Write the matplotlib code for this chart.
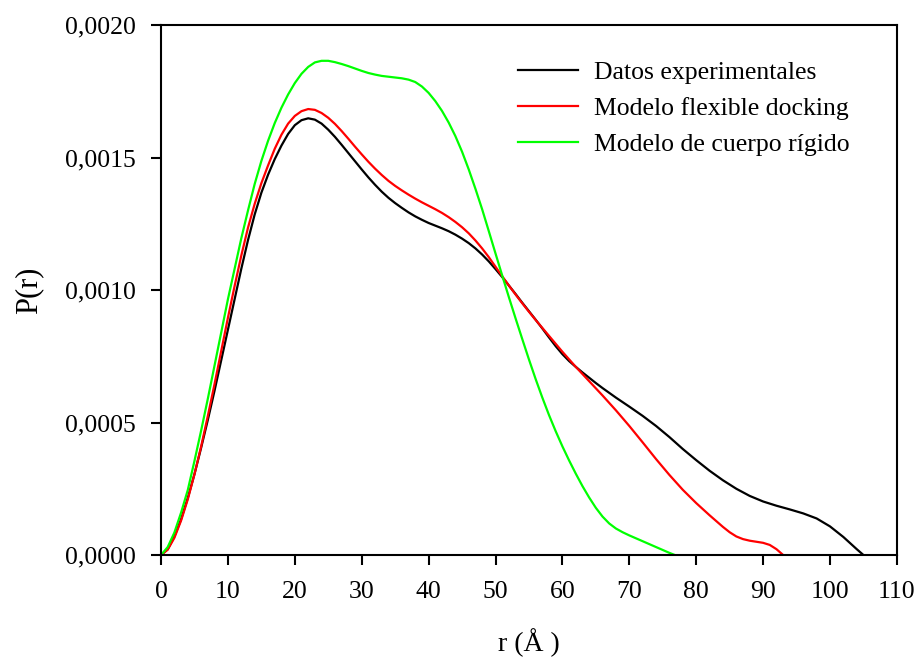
import numpy as np
import matplotlib
matplotlib.use("Agg")
import matplotlib.pyplot as plt
from matplotlib.ticker import FuncFormatter, MultipleLocator

# P(r) curves, values in units of 1e-3
r_exp = [0, 1, 2, 3, 4, 5, 6, 7, 8, 9, 10, 11, 12, 13, 14, 15, 16, 17, 18, 19,
         20, 21, 22, 23, 24, 25, 26, 27, 28, 29, 30, 31, 32, 33, 34, 35, 36, 37, 38, 39,
         40, 41, 42, 43, 44, 45, 46, 47, 48, 49, 50, 51, 52, 53, 54, 55, 56, 57, 58, 59,
         60, 61, 62, 63, 64, 65, 66, 68, 70, 72, 74, 76, 78, 80, 82, 84, 86, 88, 90, 92,
         94, 96, 98, 100, 102, 104, 105]
p_exp = [0, 0.022, 0.07, 0.135, 0.215, 0.305, 0.405, 0.51, 0.62, 0.735, 0.85, 0.965, 1.08,
         1.188, 1.285, 1.367, 1.435, 1.494, 1.545, 1.589, 1.622, 1.641, 1.648, 1.643, 1.628,
         1.605, 1.578, 1.548, 1.517, 1.486, 1.455, 1.425, 1.397, 1.371, 1.348, 1.328, 1.31,
         1.293, 1.278, 1.265, 1.253, 1.243, 1.233, 1.222, 1.209, 1.194, 1.177, 1.157, 1.134,
         1.108, 1.079, 1.049, 1.017, 0.985, 0.952, 0.92, 0.888, 0.855, 0.821, 0.788, 0.758,
         0.732, 0.71, 0.689, 0.669, 0.649, 0.63, 0.594, 0.56, 0.525, 0.487, 0.445, 0.40,
         0.358, 0.318, 0.282, 0.25, 0.223, 0.202, 0.186, 0.172, 0.157, 0.138, 0.108, 0.068,
         0.022, 0]

r_flex = [0, 1, 2, 3, 4, 5, 6, 7, 8, 9, 10, 11, 12, 13, 14, 15, 16, 17, 18, 19,
          20, 21, 22, 23, 24, 25, 26, 27, 28, 29, 30, 31, 32, 33, 34, 35, 36, 37, 38, 39,
          40, 41, 42, 43, 44, 45, 46, 47, 48, 49, 50, 51, 52, 53, 54, 55, 56, 57, 58, 59,
          60, 62, 64, 66, 68, 70, 72, 74, 76, 78, 80, 82, 84, 85, 86, 87, 88, 89, 90, 91,
          92, 93]
p_flex = [0, 0.02, 0.065, 0.13, 0.21, 0.305, 0.41, 0.525, 0.645, 0.77, 0.895, 1.015, 1.13,
          1.235, 1.325, 1.403, 1.47, 1.533, 1.586, 1.628, 1.657, 1.675, 1.683, 1.68, 1.668,
          1.65, 1.627, 1.60, 1.571, 1.541, 1.512, 1.484, 1.458, 1.434, 1.412, 1.393, 1.376,
          1.36, 1.345, 1.331, 1.318, 1.305, 1.291, 1.275, 1.257, 1.237, 1.214, 1.187, 1.157,
          1.124, 1.088, 1.052, 1.017, 0.983, 0.95, 0.918, 0.887, 0.857, 0.827, 0.797, 0.767,
          0.71, 0.656, 0.602, 0.546, 0.487, 0.425, 0.362, 0.302, 0.246, 0.196, 0.15, 0.106,
          0.086, 0.07, 0.06, 0.054, 0.05, 0.046, 0.038, 0.022, 0]

r_rig = [0, 1, 2, 3, 4, 5, 6, 7, 8, 9, 10, 11, 12, 13, 14, 15, 16, 17, 18, 19,
         20, 21, 22, 23, 24, 25, 26, 27, 28, 29, 30, 31, 32, 33, 34, 35, 36, 37, 38, 39,
         40, 41, 42, 43, 44, 45, 46, 47, 48, 49, 50, 51, 52, 53, 54, 55, 56, 57, 58, 59,
         60, 61, 62, 63, 64, 65, 66, 67, 68, 69, 70, 71, 72, 73, 74, 75, 76, 76.8]
p_rig = [0, 0.03, 0.085, 0.16, 0.245, 0.355, 0.47, 0.59, 0.715, 0.84, 0.965, 1.08, 1.195,
         1.30, 1.40, 1.487, 1.563, 1.63, 1.688, 1.738, 1.781, 1.816, 1.842, 1.859, 1.865,
         1.865, 1.86, 1.853, 1.845, 1.836, 1.827, 1.819, 1.813, 1.808, 1.805, 1.802, 1.799,
         1.794, 1.785, 1.768, 1.744, 1.713, 1.676, 1.632, 1.581, 1.522, 1.455, 1.382, 1.305,
         1.222, 1.138, 1.055, 0.973, 0.893, 0.815, 0.738, 0.664, 0.594, 0.528, 0.467, 0.41,
         0.357, 0.307, 0.26, 0.217, 0.178, 0.145, 0.119, 0.10, 0.086, 0.074, 0.063, 0.052,
         0.041, 0.03, 0.019, 0.008, 0]

labels = ["Datos experimentales", "Modelo flexible docking", "Modelo de cuerpo rígido"]
colors = ["black", "#ff0000", "#00ff00"]

plt.rcParams['font.family'] = ['Liberation Serif', 'DejaVu Serif']

fig = plt.figure(figsize=(9.18, 6.59), dpi=100)
ax = fig.add_axes([0.1754, 0.1578, 0.8016, 0.8042])

for r, p, lab, c in zip([r_exp, r_flex, r_rig], [p_exp, p_flex, p_rig], labels, colors):
    ax.plot(r, np.array(p) * 1e-3, color=c, lw=1.6, label=lab)

ax.set_xlim(0, 110)
ax.set_ylim(0, 0.002)
ax.xaxis.set_major_locator(MultipleLocator(10))
ax.yaxis.set_major_locator(MultipleLocator(0.0005))
ax.yaxis.set_major_formatter(FuncFormatter(lambda v, pos: f"{v:.4f}".replace(".", ",")))

for s in ax.spines.values():
    s.set_linewidth(1.5)
ax.tick_params(direction='out', length=7, width=1.5, labelsize=18.5)
ax.tick_params(axis='x', pad=12)
ax.tick_params(axis='y', pad=11)

ax.set_xlabel("r (Å )", fontsize=20, labelpad=18)
ax.set_ylabel("P(r)", fontsize=22, labelpad=16)

ax.legend(loc='upper left', bbox_to_anchor=(0.485, 0.932), frameon=False, fontsize=18.5,
          handlelength=2.35, handletextpad=0.6, labelspacing=0.5,
          borderpad=0, borderaxespad=0)

fig.savefig("out.png", dpi=100)
